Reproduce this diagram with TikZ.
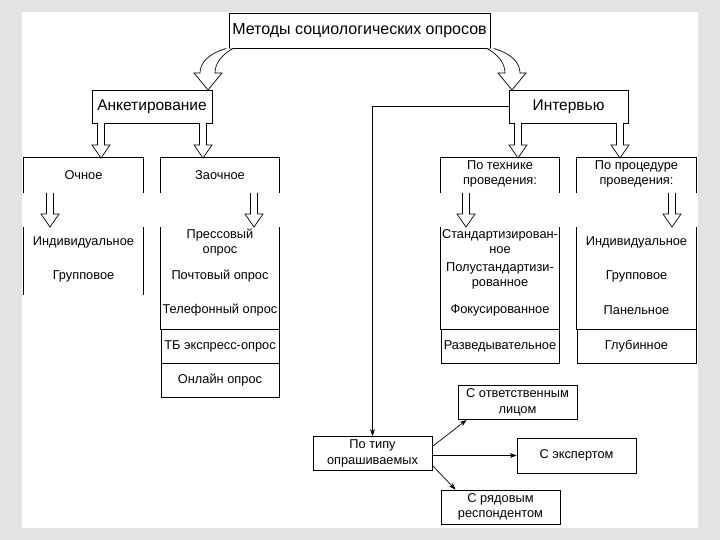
\documentclass[tikz,border=0pt]{standalone}
\usepackage{fontspec}
\setmainfont{Liberation Sans}
\usetikzlibrary{arrows.meta,calc}
\newcommand{\hollowarr}[3]{\draw[harrow] (#1-3.5,#2) -- (#1-3.5,#3-13) -- (#1-9,#3-13) -- (#1,#3) -- (#1+9,#3-13) -- (#1+3.5,#3-13) -- (#1+3.5,#2);}
\begin{document}
\begin{tikzpicture}[x=1pt,y=-1pt,
  box/.style={draw, line width=0.8pt, minimum width=119pt, minimum height=34pt, inner sep=0pt, align=center, font=\fontsize{12.8}{15.5}\selectfont},
  bigbox/.style={box, font=\fontsize{15.5}{18}\selectfont},
  seg/.style={minimum width=118pt, inner sep=0pt, align=center, font=\fontsize{12.8}{15.5}\selectfont},
  txt/.style={align=center, inner sep=0pt, font=\fontsize{12.8}{15.5}\selectfont},
  ln/.style={line width=0.8pt},
  harrow/.style={draw, line width=0.7pt, fill=white, line join=miter},
  conn/.style={line width=0.7pt, -{Stealth[length=7pt,width=5pt]}}
]
\fill[black!11] (0,0) rectangle (720,540);
\fill[white] (22,12) rectangle (698,528);
\useasboundingbox (0,0) rectangle (720,540);

% top level
\node[bigbox, minimum width=261pt, minimum height=35pt, font=\fontsize{16}{18}\selectfont] (title) at (359.5,30.5) {Методы социологических опросов};
\node[bigbox, minimum width=120pt, minimum height=33pt] (ank) at (152,106.5) {Анкетирование};
\node[bigbox, minimum width=119pt, minimum height=33pt] (int) at (568.5,106.5) {Интервью};

% curved arrows
\draw[harrow] (226,48.5) .. controls (208,54) and (200,63) .. (200,73) -- (194,73) -- (208,90) -- (222,73) -- (215,73) .. controls (215,64) and (221,55) .. (233,48.5);
\draw[harrow] (494,48.5) .. controls (512,54) and (520,63) .. (520,73) -- (526,73) -- (512,90) -- (498,73) -- (505,73) .. controls (505,64) and (499,55) .. (487,48.5);

% column: Очное
\node[seg, minimum width=119pt, minimum height=35pt] (ochT) at (83.5,175.5) {Очное};
\draw[ln] (ochT.south west) -- (ochT.north west) -- (ochT.north east) -- (ochT.south east);
\node[seg, minimum width=119pt, minimum height=68pt] (ochB) at (83.5,261) {};
\draw[ln] (ochB.north west) -- (ochB.south west) (ochB.north east) -- (ochB.south east);
\node[txt] (och1) at (83.5,242) {Индивидуальное};
\node[txt] (och2) at (83.5,276) {Групповое};

% column: Заочное
\node[seg, minimum height=35pt] (zaoT) at (220,175.5) {Заочное};
\draw[ln] (zaoT.south west) -- (zaoT.north west) -- (zaoT.north east) -- (zaoT.south east);
\node[seg, minimum height=102pt] (zaoB) at (220,278) {};
\draw[ln] (zaoB.north west) -- (zaoB.south west) -- (zaoB.south east) -- (zaoB.north east);
\node[box, minimum width=118pt] (zao4) at (220,346) {ТБ экспресс-опрос};
\node[box, minimum width=118pt] (zao5) at (220,380) {Онлайн опрос};
\node[txt] (zao1) at (220,242.5) {Прессовый\\опрос};
\node[txt] (zao2) at (220,276) {Почтовый опрос};
\node[txt] (zao3) at (220,310) {Телефонный опрос};

% column: По технике
\node[seg, minimum height=35pt] (tehT) at (500,175.5) {};
\node[txt] at (500,174) {По технике\\проведения:};
\draw[ln] (tehT.south west) -- (tehT.north west) -- (tehT.north east) -- (tehT.south east);
\node[seg, minimum height=102pt] (tehB) at (500,278) {};
\draw[ln] (tehB.north west) -- (tehB.south west) -- (tehB.south east) -- (tehB.north east);
\node[box, minimum width=118pt] (teh4) at (500,346) {Разведывательное};
\node[txt] (teh1) at (500,241.5) {Стандартизирован-\\ное};
\node[txt] (teh2) at (500,276) {Полустандартизи-\\рованное};
\node[txt] (teh3) at (500,310) {Фокусированное};

% column: По процедуре
\node[seg, minimum width=119pt, minimum height=35pt] (proT) at (636.5,175.5) {};
\node[txt] at (636.5,174) {По процедуре\\проведения:};
\draw[ln] (proT.south west) -- (proT.north west) -- (proT.north east) -- (proT.south east);
\node[seg, minimum width=119pt, minimum height=102pt] (proB) at (636.5,278) {};
\draw[ln] (proB.north west) -- (proB.south west) -- (proB.south east) -- (proB.north east);
\node[box] (pro4) at (636.5,346) {Глубинное};
\node[txt] (pro1) at (636.5,242) {Индивидуальное};
\node[txt] (pro2) at (636.5,276) {Групповое};
\node[txt] (pro3) at (636.5,310) {Панельное};

% hollow arrows
\hollowarr{101}{123}{158}
\hollowarr{203}{123}{158}
\hollowarr{518}{123}{158}
\hollowarr{620}{123}{158}
\hollowarr{50}{193}{227}
\hollowarr{254}{193}{227}
\hollowarr{466}{193}{227}
\hollowarr{672}{193}{227}

% bottom group
\node[box] (typ) at (372.5,453.5) {По типу\\опрашиваемых};
\node[box] (otv) at (517.5,402.5) {С ответственным\\лицом};
\node[box, minimum height=35pt] (eks) at (576.5,455.5) {С экспертом};
\node[box] (ryd) at (500.5,507) {С рядовым\\респондентом};

\draw[conn] (int.west) -| (typ.north);
\draw[conn] ($(typ.east)+(0,-7)$) -- ($(otv.south west)+(9,0)$);
\draw[conn] (typ.east |- eks.west) -- (eks.west);
\draw[conn] ($(typ.east)+(0,12)$) -- ($(ryd.north west)+(15,0)$);
\end{tikzpicture}
\end{document}
